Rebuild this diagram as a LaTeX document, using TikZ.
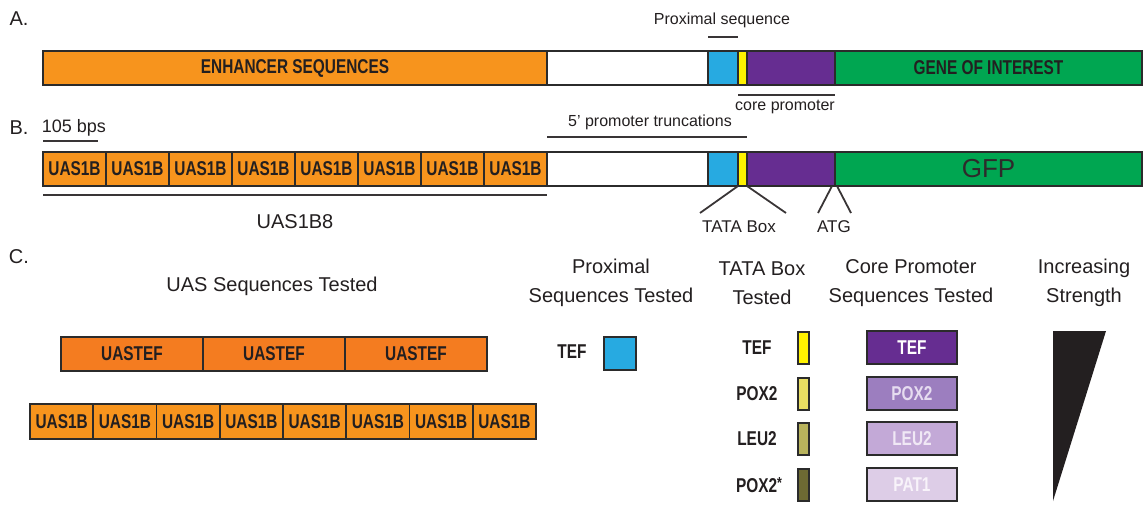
\documentclass[tikz,border=0pt]{standalone}
\usepackage{fontspec}
\setmainfont{Liberation Sans}
\newfontfamily\nbf{Liberation Sans}[FakeStretch=0.77]
\definecolor{orng}{HTML}{F7941D}
\definecolor{orng2}{HTML}{F47C20}
\definecolor{cblue}{HTML}{27AAE1}
\definecolor{cyel}{HTML}{FFF200}
\definecolor{cpur}{HTML}{662D91}
\definecolor{cgrn}{HTML}{00A651}
\definecolor{ink}{HTML}{231F20}
\definecolor{edge}{HTML}{2B2B2B}
\definecolor{tat2}{HTML}{E9DE62}
\definecolor{tat3}{HTML}{B8B35C}
\definecolor{tat4}{HTML}{6D6A33}
\definecolor{cp2}{HTML}{9C7EBF}
\definecolor{cp3}{HTML}{C3A9D7}
\definecolor{cp4}{HTML}{DDCDE7}
\definecolor{cpt2}{HTML}{E6DCF0}
\definecolor{cpt3}{HTML}{F0E8F5}
\definecolor{cpt4}{HTML}{F8F3FA}
\begin{document}
\begin{tikzpicture}[x=1pt,y=-1pt,
  seg/.style={draw=edge, line width=1.8pt, inner sep=0pt, outer sep=0pt, anchor=north west,
    minimum height=34pt, text=ink, font=\nbf\bfseries\fontsize{20}{20}\selectfont},
  blab/.style={text=ink, inner sep=0pt, font=\nbf\bfseries\fontsize{20}{20}\selectfont},
  lab/.style={text=ink, inner sep=0pt, font=\fontsize{16}{16}\selectfont},
  head/.style={text=ink, inner sep=0pt, align=center, font=\fontsize{20}{29}\selectfont},
  tick/.style={draw=ink!90, line width=1.8pt},
  tbar/.style={seg, minimum width=11pt, minimum height=32pt},
  cbox/.style={seg, minimum width=90pt, minimum height=33pt},
]
\useasboundingbox (0,0) rectangle (1143,504);

% ---------- A ----------
\node[head] (labA) at (19,19) {A.};
\node[seg, fill=orng, minimum width=504pt] (a1) at (43,51) {ENHANCER SEQUENCES};
\node[seg, fill=white, minimum width=161pt] (a2) at (547,51) {};
\node[seg, fill=cblue, minimum width=30pt] (a3) at (708,51) {};
\node[seg, fill=cyel, minimum width=9pt] (a4) at (738,51) {};
\node[seg, fill=cpur, minimum width=88pt] (a5) at (747,51) {};
\node[seg, fill=cgrn, minimum width=307pt] (a6) at (835,51) {GENE OF INTEREST};
\node[lab] (prox) at (722,20) {Proximal sequence};
\draw[tick] ([yshift=14pt]a3.north west) -- ([yshift=14pt]a3.north east);
\draw[tick] ([yshift=-10pt]a4.south west) -- ([yshift=-10pt]a5.south east);
\node[lab] (core) at (785,107) {core promoter};

% ---------- B ----------
\node[head] (labB) at (19,128) {B.};
\node[lab, font=\fontsize{18}{18}\selectfont] (bps) at (74,128) {105 bps};
\foreach \i in {0,...,7}
  \node[seg, fill=orng, minimum width=63pt] (bu\i) at ({43+63*\i},152) {UAS1B};
\node[seg, fill=white, minimum width=161pt] (b2) at (547,152) {};
\node[seg, fill=cblue, minimum width=30pt] (b3) at (708,152) {};
\node[seg, fill=cyel, minimum width=9pt] (b4) at (738,152) {};
\node[seg, fill=cpur, minimum width=88pt] (b5) at (747,152) {};
\node[seg, fill=cgrn, minimum width=307pt, font=\fontsize{26}{26}\selectfont, text=ink!95] (b6) at (835,152) {GFP};
\draw[tick] ([yshift=11pt]bu0.north west) -- ++(55,0);
\node[lab] (trunc) at (650,122) {5' promoter truncations};
\draw[tick] ([yshift=15pt]b2.north west) -- ([yshift=15pt]b4.north east);
\draw[tick] ([yshift=-9pt]bu0.south west) -- ([yshift=-9pt]bu7.south east);
\node[head] (uas8) at (295,222) {UAS1B8};
\coordinate (tl) at (700,213);
\coordinate (tr) at (786,213);
\draw[tick] (b4.south west) -- (tl);
\draw[tick] (b4.south east) -- (tr);
\node[lab, font=\fontsize{17}{17}\selectfont] (tata) at (739,227) {TATA Box};
\coordinate (al) at (818,213);
\coordinate (ar) at (851,213);
\draw[tick] ([xshift=-3pt]b5.south east) -- (al);
\draw[tick] ([xshift=2pt]b5.south east) -- (ar);
\node[lab, font=\fontsize{17}{17}\selectfont] (atg) at (834,227) {ATG};

% ---------- C ----------
\node[head] (labC) at (19,257) {C.};
\node[head] (h1) at (272,286) {UAS Sequences Tested};
\node[head] (h2) at (611,283) {Proximal\\Sequences Tested};
\node[head] (h3) at (762,283) {TATA Box\\Tested};
\node[head] (h4) at (911,283) {Core Promoter\\Sequences Tested};
\node[head] (h5) at (1084,283) {Increasing\\Strength};

\foreach \i in {0,1,2}
  \node[seg, fill=orng2, minimum width=142pt] (ct\i) at ({61+142*\i},337) {UASTEF};
\foreach \i in {0,...,7}
  \node[seg, fill=orng, minimum width=63.25pt, minimum height=35pt] (cu\i) at ({30+63.25*\i},404) {UAS1B};

\node[seg, fill=cblue, minimum width=32pt, minimum height=33pt] (pb) at (604,337) {};
\node[blab] (pt) at (572,352) {TEF};

\node[tbar, fill=cyel] (t1) at (798,332) {};
\node[tbar, fill=tat2] (t2) at (798,378) {};
\node[tbar, fill=tat3] (t3) at (798,423) {};
\node[tbar, fill=tat4] (t4) at (798,469) {};
\node[blab] (tl1) at (757,348) {TEF};
\node[blab] (tl2) at (757,394) {POX2};
\node[blab] (tl3) at (757,439) {LEU2};
\node[blab] (tl4) at (759,485) {POX2\raisebox{0.2em}{\fontsize{16}{16}\selectfont*}};

\node[cbox, fill=cpur, text=white] (c1) at (867,331) {TEF};
\node[cbox, fill=cp2, text=cpt2] (c2) at (867,377) {POX2};
\node[cbox, fill=cp3, text=cpt3] (c3) at (867,422) {LEU2};
\node[cbox, fill=cp4, text=cpt4] (c4) at (867,468) {PAT1};

\fill[ink] (1053,331) -- (1106,331) -- (1053,501) -- cycle;
\end{tikzpicture}
\end{document}
